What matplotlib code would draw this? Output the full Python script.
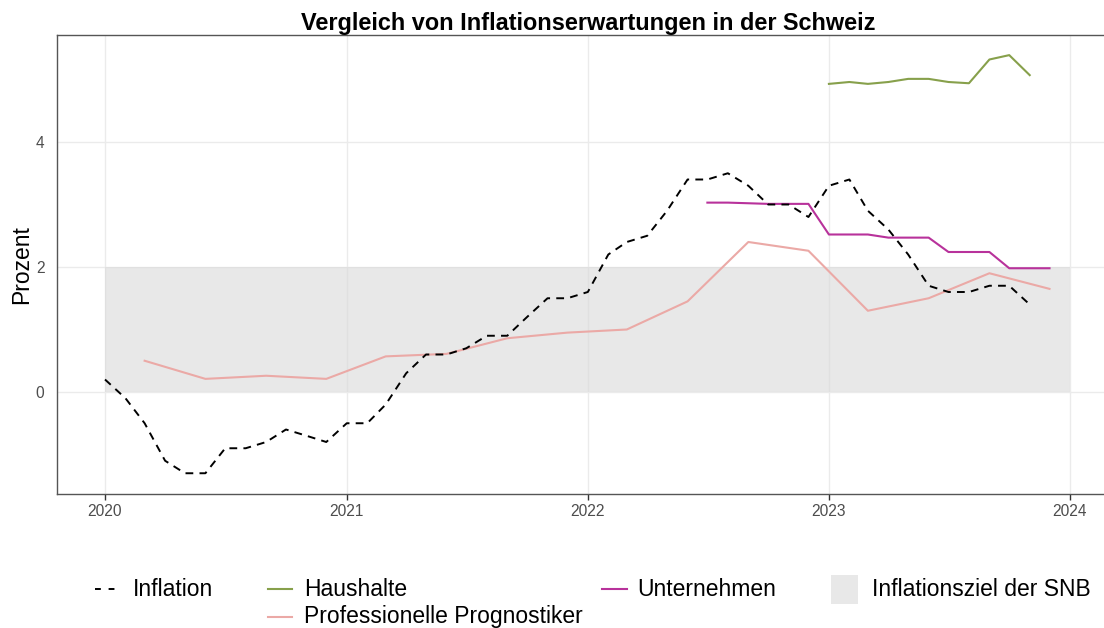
"""
Vergleich von Inflationserwartungen in der Schweiz (Inflation vs. Erwartungen).
"""
import pandas as pd
import matplotlib
matplotlib.use("Agg")
import matplotlib.pyplot as plt
import matplotlib.dates as mdates
from matplotlib.lines import Line2D
from matplotlib.patches import Rectangle

plt.rcParams["font.family"] = ["Liberation Sans", "DejaVu Sans"]

# --- data -----------------------------------------------------------------
infl_dates = pd.date_range("2020-01-01", "2023-11-01", freq="MS")
infl_values = [
    0.2, -0.1, -0.5, -1.1, -1.3, -1.3, -0.9, -0.9, -0.8, -0.6, -0.7, -0.8,
    -0.5, -0.5, -0.2, 0.3, 0.6, 0.6, 0.7, 0.9, 0.9, 1.2, 1.5, 1.5,
    1.6, 2.2, 2.4, 2.5, 2.9, 3.4, 3.4, 3.5, 3.3, 3.0, 3.0, 2.8,
    3.3, 3.4, 2.9, 2.6, 2.2, 1.7, 1.6, 1.6, 1.7, 1.7, 1.4,
]

hh_dates = pd.date_range("2023-01-01", "2023-11-01", freq="MS")
hh_values = [4.93, 4.96, 4.93, 4.96, 5.01, 5.01, 4.96, 4.94, 5.32, 5.39, 5.07]

firm_dates = pd.date_range("2022-07-01", "2023-12-01", freq="MS")
firm_values = [3.03, 3.03, 3.02, 3.01, 3.01, 3.01,
               2.52, 2.52, 2.52, 2.47, 2.47, 2.47,
               2.24, 2.24, 2.24, 1.98, 1.98, 1.98]

prof_dates = pd.date_range("2020-03-01", "2023-12-01", freq="3MS")
prof_values = [0.5, 0.21, 0.26, 0.21, 0.57, 0.61, 0.86, 0.95,
               1.0, 1.45, 2.4, 2.26, 1.3, 1.5, 1.9, 1.65]

target_start, target_end = pd.Timestamp("2020-01-01"), pd.Timestamp("2024-01-01")
target_low, target_high = 0, 2

year_ticks = [pd.Timestamp(f"{y}-01-01") for y in range(2020, 2025)]

C_HH = "#87a04b"
C_FIRM = "#b8329b"
C_PROF = "#eba9a6"
C_TARGET = "#d9d9d9"

# --- figure ---------------------------------------------------------------
W, H = 1104, 628
fig = plt.figure(figsize=(W / 100, H / 100), dpi=100)


def fx(px):
    return px / W


def fy(py):
    return 1 - py / H


ax = fig.add_axes([fx(57), fy(494), fx(1104 - 57), (494 - 35) / H])

ax.grid(True, color="#ebebeb", linewidth=1.0, zorder=0)
ax.set_axisbelow(True)

ax.fill_between([target_start, target_end], target_low, target_high,
                color=C_TARGET, alpha=0.6, linewidth=0, zorder=1)

ax.plot(prof_dates, prof_values, color=C_PROF, lw=1.5, zorder=3)
ax.plot(firm_dates, firm_values, color=C_FIRM, lw=1.5, zorder=3)
ax.plot(hh_dates, hh_values, color=C_HH, lw=1.5, zorder=3)
ax.plot(infl_dates, infl_values, color="black", lw=1.4,
        linestyle=(0, (4, 3.2)), zorder=4)

# 2020 -> 2024 spans about 965 px; axes run from px 57 to 1104
t0 = mdates.date2num(pd.Timestamp("2020-01-01"))
days_per_px = 1461 / 965
ax.set_xlim(t0 - 48 * days_per_px, t0 + (1104 - 105) * days_per_px)
ax.set_ylim(-1.632, 5.712)
ax.set_xticks(year_ticks)
ax.xaxis.set_major_formatter(mdates.DateFormatter("%Y"))
ax.set_yticks([0, 2, 4])

ax.tick_params(axis="x", length=4, width=1, color="#333333", pad=3,
               labelsize=11.2, labelcolor="#4d4d4d")
ax.tick_params(axis="y", length=0, pad=9, labelsize=11.2, labelcolor="#4d4d4d")

for side in ["left", "bottom", "top"]:
    ax.spines[side].set_color("#555555")
    ax.spines[side].set_linewidth(1.0)
ax.spines["right"].set_visible(False)

ax.set_ylabel("Prozent", fontsize=16.5, color="black", labelpad=2)
ax.set_title("Vergleich von Inflationserwartungen in der Schweiz",
             fontsize=16.9, fontweight="bold", pad=2, x=(588 - 57) / (1104 - 57))

# --- legend (manual, ggplot-style bottom layout) ---------------------------
leg_size = 16.5


def key_line(x0, x1, y, **kw):
    fig.add_artist(Line2D([fx(x0), fx(x1)], [fy(y), fy(y)],
                          transform=fig.transFigure, **kw))


key_line(95, 117, 589, color="black", lw=1.4, linestyle=(0, (3, 4)))
fig.text(fx(133), fy(589), "Inflation", fontsize=leg_size, va="center")

key_line(268, 292, 589, color=C_HH, lw=1.5)
fig.text(fx(304), fy(589), "Haushalte", fontsize=leg_size, va="center")

key_line(268, 292, 617, color=C_PROF, lw=1.5)
fig.text(fx(304), fy(617), "Professionelle Prognostiker", fontsize=leg_size,
         va="center")

key_line(602, 627, 589, color=C_FIRM, lw=1.5)
fig.text(fx(637), fy(589), "Unternehmen", fontsize=leg_size, va="center")

fig.add_artist(Rectangle((fx(831), fy(604)), fx(858 - 831), (604 - 575) / H,
                         transform=fig.transFigure, facecolor=C_TARGET,
                         alpha=0.6, edgecolor="none"))
fig.text(fx(872), fy(589), "Inflationsziel der SNB", fontsize=leg_size,
         va="center")

fig.savefig("out.png", dpi=100)
